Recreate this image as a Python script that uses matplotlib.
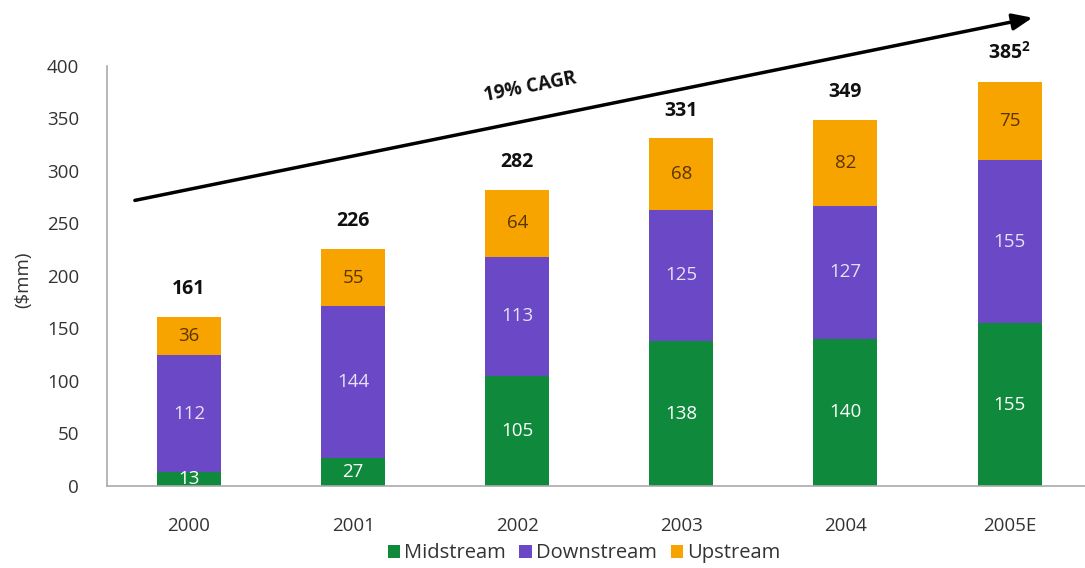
import numpy as np
import matplotlib.pyplot as plt

YEARS = ['2000', '2001', '2002', '2003', '2004', '2005E']
MIDSTREAM = [13, 27, 105, 138, 140, 155]
DOWNSTREAM = [112, 144, 113, 125, 127, 155]
UPSTREAM = [36, 55, 64, 68, 82, 75]
TOTAL_LABELS = ['161', '226', '282', '331', '349', r'385$^{\mathregular{2}}$']

GREEN = '#0f8a3c'
PURPLE = '#6a48c6'
ORANGE = '#f7a400'

plt.rcParams['font.family'] = ['Open Sans', 'DejaVu Sans']

fig = plt.figure(figsize=(10.85, 5.68), dpi=100)
ax = fig.add_axes([0.0986, 0.1444, 0.9014, 0.7394])

x = np.arange(len(YEARS))
mid = np.array(MIDSTREAM)
down = np.array(DOWNSTREAM)
up = np.array(UPSTREAM)
width = 0.39

b1 = ax.bar(x, mid, width, color=GREEN, label='Midstream')
b2 = ax.bar(x, down, width, bottom=mid, color=PURPLE, label='Downstream')
b3 = ax.bar(x, up, width, bottom=mid + down, color=ORANGE, label='Upstream')

for i in range(len(x)):
    ax.text(x[i], mid[i] / 2, str(mid[i]), ha='center', va='center',
            color='white', fontsize=13.5)
    ax.text(x[i], mid[i] + down[i] / 2, str(down[i]), ha='center', va='center',
            color='#e8e0f5', fontsize=13.5)
    ax.text(x[i], mid[i] + down[i] + up[i] / 2, str(up[i]), ha='center',
            va='center', color='#5a3400', fontsize=13.5)
    total = mid[i] + down[i] + up[i]
    ax.text(x[i], total + 17, TOTAL_LABELS[i], ha='center', va='bottom',
            color='#111111', fontsize=14, fontweight='bold')

# growth arrow across the top
ax.annotate('', xy=(5.14, 446), xytext=(-0.33, 272),
            arrowprops=dict(arrowstyle='-|>,head_length=1.2,head_width=0.5',
                            color='black', lw=2.5, shrinkA=0, shrinkB=0),
            annotation_clip=False)
ax.text(2.08, 380, '19% CAGR', rotation=11, ha='center', va='center',
        fontsize=13.5, fontweight='bold', color='#111111')

ax.set_xlim(-0.5, 5.46)
ax.set_ylim(0, 400)
ax.set_yticks(np.arange(0, 401, 50))
ax.set_xticks(x)
ax.set_xticklabels(YEARS)
ax.tick_params(axis='both', length=0, labelsize=13.5, labelcolor='#333333')
ax.tick_params(axis='y', pad=20)
ax.tick_params(axis='x', pad=22)

for side in ('top', 'right'):
    ax.spines[side].set_visible(False)
for side in ('left', 'bottom'):
    ax.spines[side].set_color('#aaaaaa')
    ax.spines[side].set_linewidth(1.2)

fig.text(0.021, 0.507, '($mm)', rotation=90, ha='center', va='center',
         fontsize=13.5, color='#333333')

fig.legend(handles=[b1, b2, b3], loc='center', bbox_to_anchor=(0.538, 0.026),
           ncol=3, frameon=False, fontsize=14.5, handlelength=0.6,
           handleheight=0.6, handletextpad=0.2, columnspacing=0.7,
           labelcolor='#333333')

fig.savefig('out.png', dpi=100)
